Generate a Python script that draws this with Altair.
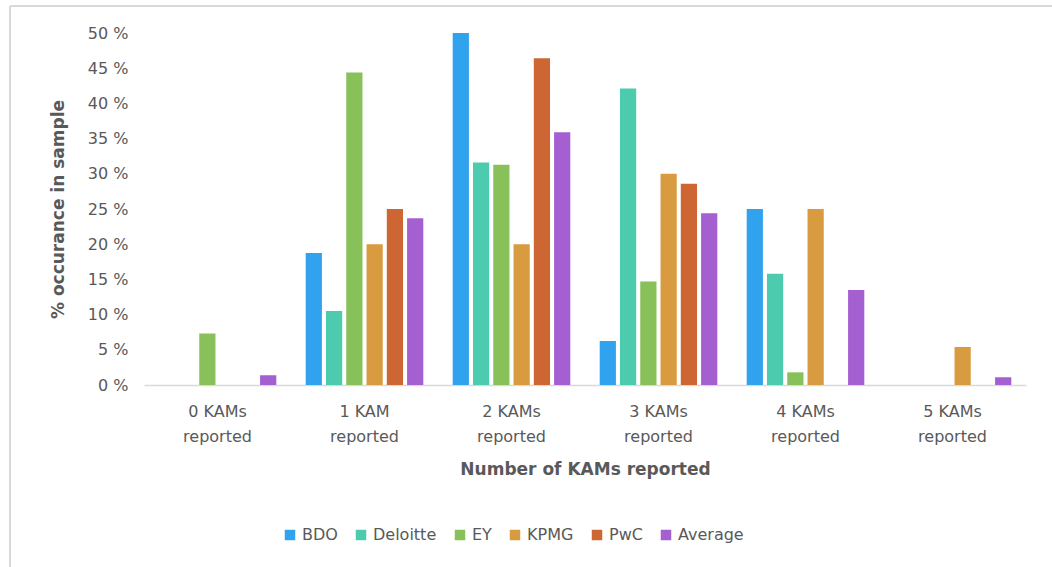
import altair as alt
import pandas as pd

# KAM counts per audit report, with the share of each firm's sample
categories = ["0 KAMs reported", "1 KAM reported", "2 KAMs reported",
              "3 KAMs reported", "4 KAMs reported", "5 KAMs reported"]
firms = ["BDO", "Deloitte", "EY", "KPMG", "PwC", "Average"]
colors = ["#31A3EE", "#4CCBAE", "#88C15A", "#D99B40", "#CD6633", "#A45FD1"]

bdo = [0.0, 18.75, 50.0, 6.25, 25.0, 0.0]
deloitte = [0.0, 10.5, 31.6, 42.1, 15.8, 0.0]
ey = [7.3, 44.4, 31.3, 14.7, 1.8, 0.0]
kpmg = [0.0, 20.0, 20.0, 30.0, 25.0, 5.4]
pwc = [0.0, 25.0, 46.4, 28.6, 0.0, 0.0]
average = [1.4, 23.7, 35.9, 24.4, 13.5, 1.1]

series = dict(zip(firms, [bdo, deloitte, ey, kpmg, pwc, average]))
rows = []
for firm, values in series.items():
    for cat, v in zip(categories, values):
        rows.append({"category": cat, "firm": firm, "value": v})
df = pd.DataFrame(rows)

FONT = "DejaVu Sans"
GREY = "#595959"

bars = alt.Chart(df).mark_bar().encode(
    x=alt.X("category:N", sort=categories,
            scale=alt.Scale(paddingInner=0.2, paddingOuter=0.1),
            axis=alt.Axis(title="Number of KAMs reported", labelAngle=0,
                          labelExpr="[replace(datum.label, ' reported', ''), 'reported']",
                          labelLineHeight=25, labelPadding=18, labelFontSize=16,
                          labelColor=GREY, ticks=False, domainColor="#D9D9D9",
                          domainWidth=1.5, titleFontSize=17, titleFontWeight="bold",
                          titleColor=GREY, titlePadding=17)),
    xOffset=alt.XOffset("firm:N", sort=firms, scale=alt.Scale(paddingInner=0.2)),
    y=alt.Y("value:Q", scale=alt.Scale(domain=[0, 50], nice=False),
            axis=alt.Axis(title="% occurance in sample", values=list(range(0, 51, 5)),
                          labelExpr="datum.value + ' %'", grid=False, domain=False,
                          ticks=False, labelFontSize=16, labelColor=GREY,
                          labelPadding=16, titleFontSize=17, titleFontWeight="bold",
                          titleColor=GREY, titlePadding=20)),
    color=alt.Color("firm:N", sort=firms, scale=alt.Scale(domain=firms, range=colors),
                    legend=alt.Legend(title=None, orient="none", direction="horizontal",
                                      legendX=138, legendY=494, symbolType="square",
                                      symbolSize=110, symbolStrokeWidth=0,
                                      labelFontSize=16, labelColor=GREY,
                                      columnPadding=15, labelOffset=4)),
)

# light frame around the whole figure (top and left edges)
frame_top = alt.Chart(pd.DataFrame({"k": [0]})).mark_rule(color="#D9D9D9", strokeWidth=2).encode(
    x=alt.value(-134), x2=alt.value(920), y=alt.value(-27))
frame_left = alt.Chart(pd.DataFrame({"k": [0]})).mark_rule(color="#D9D9D9", strokeWidth=2).encode(
    x=alt.value(-134), y=alt.value(-27), y2=alt.value(540))

chart = alt.layer(frame_top, frame_left, bars).properties(
    width=882, height=352,
    padding={"left": 144, "top": 33, "right": 26, "bottom": 182},
    autosize=alt.AutoSizeParams(type="none"),
    background="white",
).configure(font=FONT).configure_view(strokeWidth=0)

chart.save("out.html", embed_options={"renderer": "svg", "actions": False})
